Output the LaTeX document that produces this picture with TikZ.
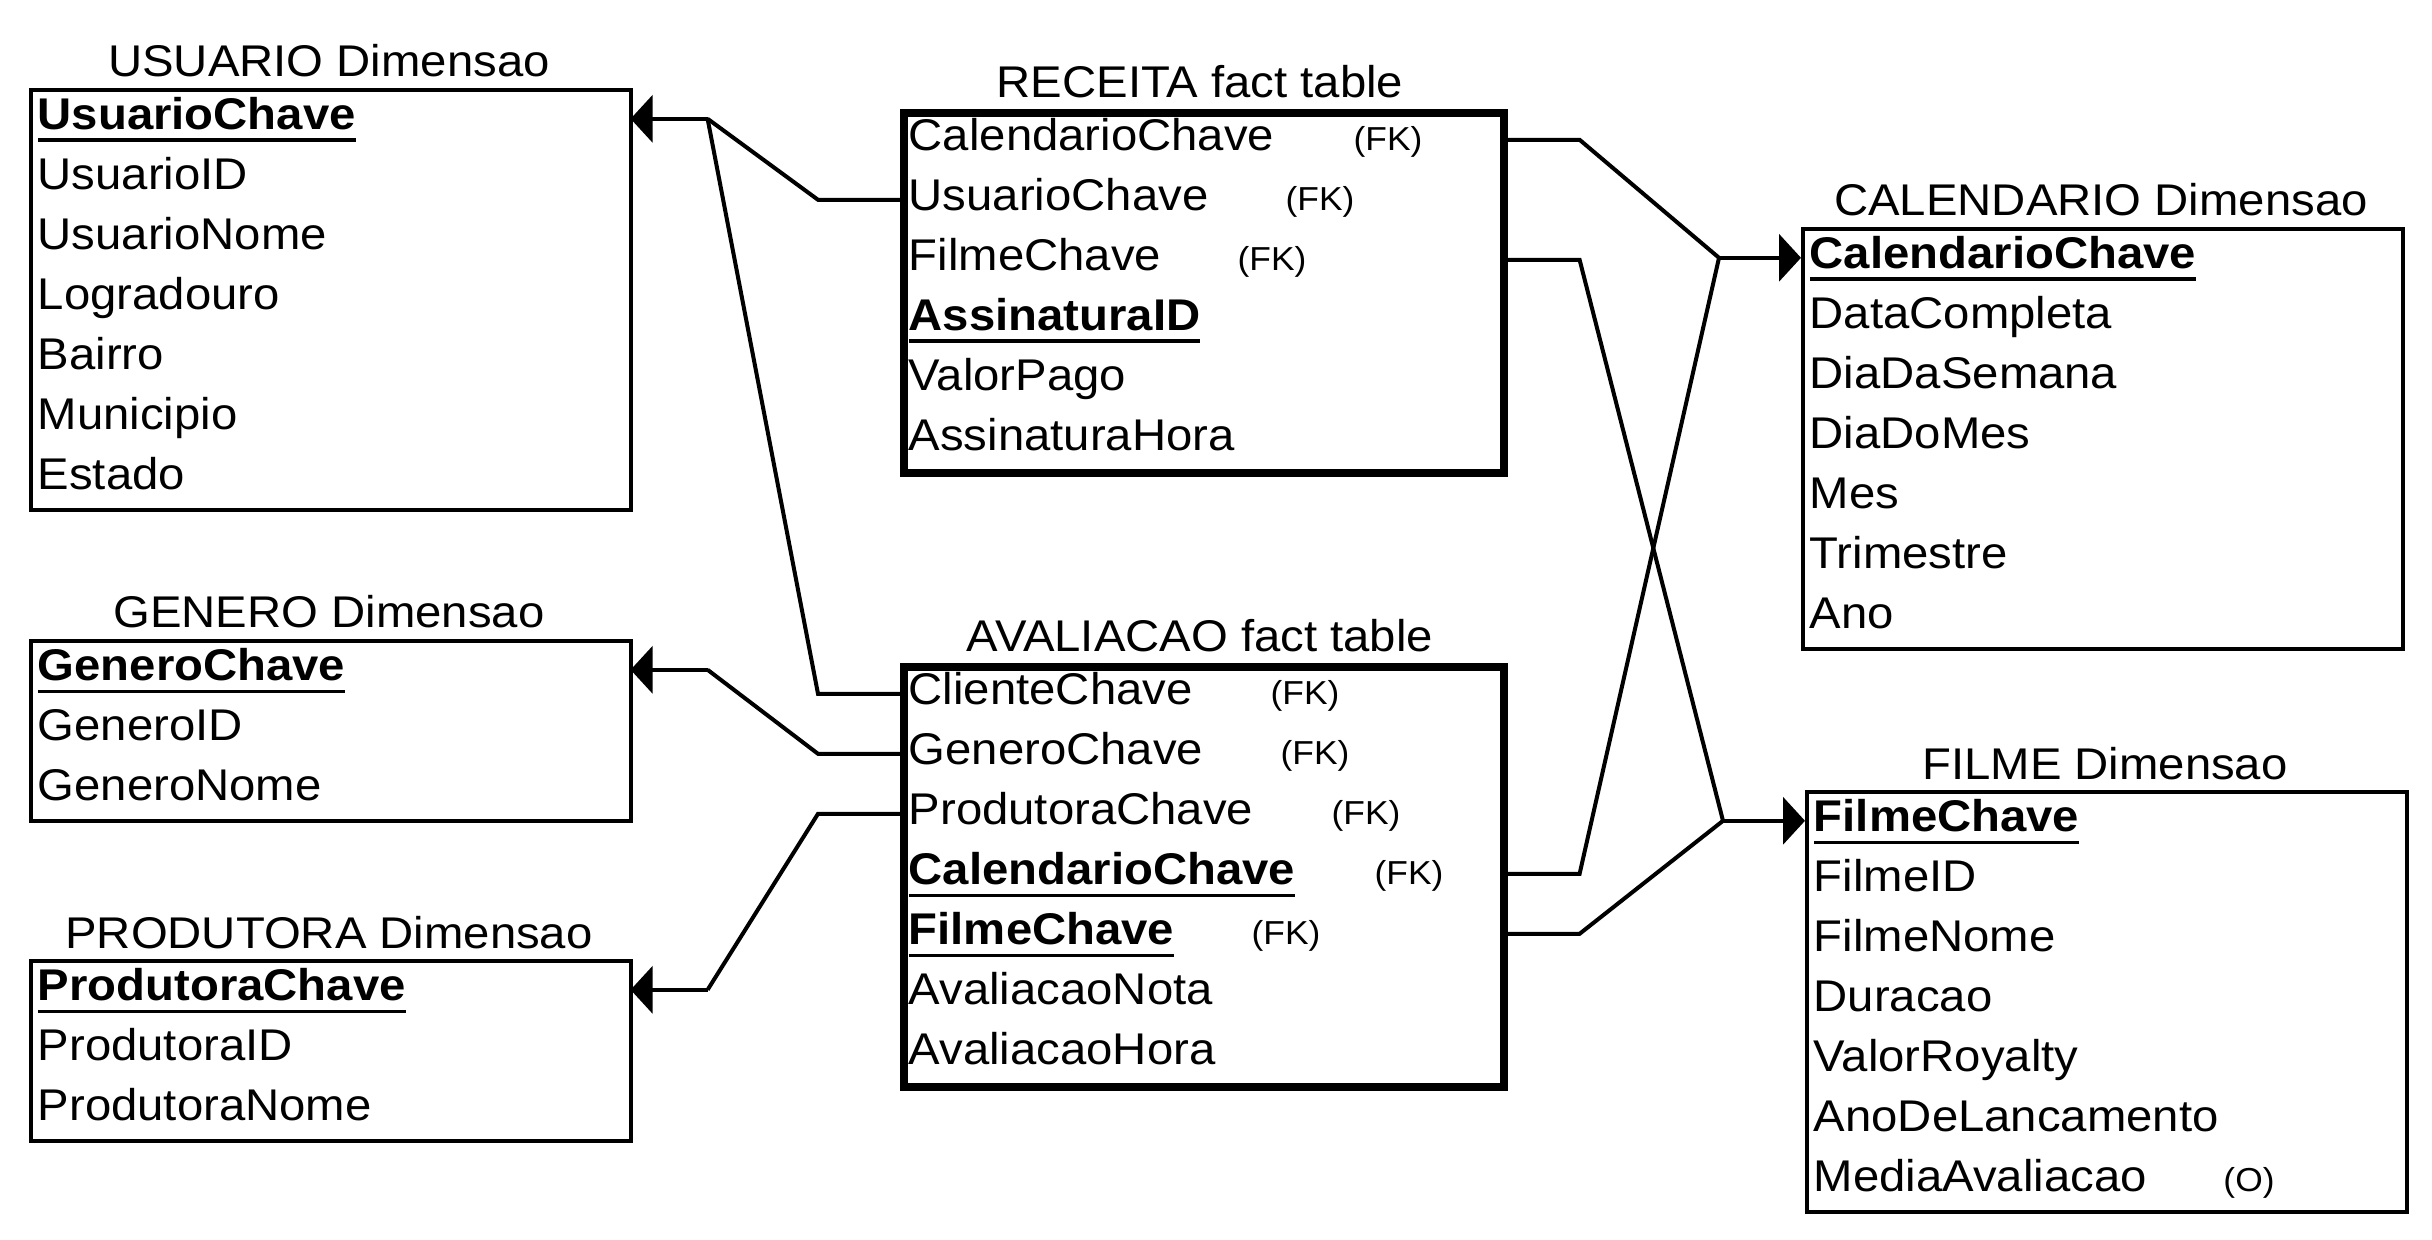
\documentclass[tikz,border=0pt]{standalone}
\usepackage{fontspec}
\setmainfont[FakeStretch=1.065]{Liberation Sans}
\usetikzlibrary{arrows.meta}
\newcommand\mainsz{\fontsize{11.1pt}{13.5pt}\selectfont}
\newcommand\fksz{\fontsize{8.3pt}{10pt}\selectfont}
\newcommand\keyul[1]{\setbox0\hbox{\bfseries #1}\rlap{\rule[-3.175pt]{\wd0}{0.9pt}}\box0}
% #1 name, #2 left, #3 top, #4 rows, #5 box style, #6 title, #7 row texts
\newcommand\dbtable[7]{%
  \node[box, #5, minimum height={#4*15pt}] (#1) at (#2,#3) {};
  \node[ttl] (#1t) at ({#2+300},{#3-11}) {#6};
  \foreach \r [count=\i from 0] in {#7} {\node[rowtext] (#1\i) at (#2,{#3+60*\i}) {\r};}
}
\begin{document}
\begin{tikzpicture}[x=0.25pt, y=-0.25pt,
  box/.style={draw, line width=1pt, minimum width=150pt, inner sep=0pt, anchor=north west},
  thickbox/.style={line width=1.9pt},
  ttl/.style={font=\mainsz, inner sep=0pt, anchor=base},
  rowtext/.style={anchor=north west, minimum width=150pt, minimum height=15pt,
    inner xsep=2pt, inner ysep=0pt, text width=146pt, align=left,
    text height=7.5pt, text depth=2.2pt, font=\mainsz},
  fk/.style={font=\fksz, inner sep=0pt, anchor=base},
  conn/.style={line width=1pt},
  tip/.style={-{Triangle[length=5.5pt,width=11.75pt]}}]
\fill[white] (0,0) rectangle (2432,1240);
\useasboundingbox (0,0) rectangle (2432,1240);

\dbtable{usr}{29}{88}{7}{}{USUARIO Dimensao}{{\keyul{UsuarioChave}},UsuarioID,UsuarioNome,Logradouro,Bairro,Municipio,Estado}
\dbtable{gen}{29}{639}{3}{}{GENERO Dimensao}{{\keyul{GeneroChave}},GeneroID,GeneroNome}
\dbtable{pro}{29}{959}{3}{}{PRODUTORA Dimensao}{{\keyul{ProdutoraChave}},ProdutoraID,ProdutoraNome}
\dbtable{rec}{900}{109}{6}{thickbox}{RECEITA fact table}{CalendarioChave,UsuarioChave,FilmeChave,{\keyul{AssinaturaID}},ValorPago,AssinaturaHora}
\dbtable{ava}{900}{663}{7}{thickbox}{AVALIACAO fact table}{ClienteChave,GeneroChave,ProdutoraChave,{\keyul{CalendarioChave}},{\keyul{FilmeChave}},AvaliacaoNota,AvaliacaoHora}
\dbtable{cal}{1801}{227}{7}{}{CALENDARIO Dimensao}{{\keyul{CalendarioChave}},DataCompleta,DiaDaSemana,DiaDoMes,Mes,Trimestre,Ano}
\dbtable{fil}{1805}{790}{7}{}{FILME Dimensao}{{\keyul{FilmeChave}},FilmeID,FilmeNome,Duracao,ValorRoyalty,AnoDeLancamento,MediaAvaliacao}

\node[fk] (rec0fk) at (1388,0 |- rec0.base) {(FK)};
\node[fk] (rec1fk) at (1320,0 |- rec1.base) {(FK)};
\node[fk] (rec2fk) at (1272,0 |- rec2.base) {(FK)};
\node[fk] (ava0fk) at (1305,0 |- ava0.base) {(FK)};
\node[fk] (ava1fk) at (1315,0 |- ava1.base) {(FK)};
\node[fk] (ava2fk) at (1366,0 |- ava2.base) {(FK)};
\node[fk] (ava3fk) at (1409,0 |- ava3.base) {(FK)};
\node[fk] (ava4fk) at (1286,0 |- ava4.base) {(FK)};
\node[fk] (fil6o) at (2249,0 |- fil6.base) {(O)};

\path (usr0.east) ++(77,0) coordinate (ub);
\path (gen0.east) ++(77,0) coordinate (gb);
\path (pro0.east) ++(77,0) coordinate (pb);
\path (cal0.west) ++(-82,0) coordinate (cb);
\path (fil0.west) ++(-82,0) coordinate (fb);

\draw[conn,tip] (ub) -- (usr0.east);
\draw[conn,tip] (gb) -- (gen0.east);
\draw[conn,tip] (pb) -- (pro0.east);
\draw[conn,tip] (cb) -- (cal0.west);
\draw[conn,tip] (fb) -- (fil0.west);

\draw[conn] (rec1.west) -- ++(-82,0) -- (ub);
\draw[conn] (ava0.west) -- ++(-82,0) -- (ub);
\draw[conn] (ava1.west) -- ++(-82,0) -- (gb);
\draw[conn] (ava2.west) -- ++(-82,0) -- (pb);
\draw[conn] (rec0.east) -- ++(78,0) -- (cb);
\draw[conn] (ava3.east) -- ++(78,0) -- (cb);
\draw[conn] (rec2.east) -- ++(78,0) -- (fb);
\draw[conn] (ava4.east) -- ++(78,0) -- (fb);
\end{tikzpicture}
\end{document}
